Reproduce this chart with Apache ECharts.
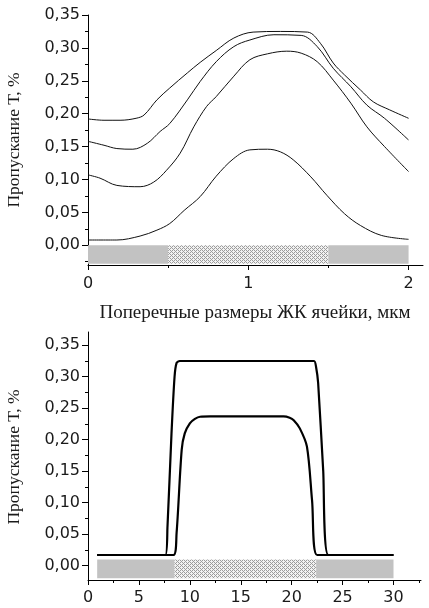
<!DOCTYPE html>
<html><head><meta charset="utf-8">
<script src="https://cdn.jsdelivr.net/npm/echarts@6/dist/echarts.min.js"></script>
<style>html,body{margin:0;padding:0;background:#fff}#c{width:429px;height:608px}</style>
</head><body><div id="c"></div>
<script>
// ---- data ----
const yTitle = 'Пропускание Т, %';
const xTitle = 'Поперечные размеры ЖК ячейки, мкм';

const topYLabels = [0, 0.05, 0.10, 0.15, 0.20, 0.25, 0.30, 0.35];
const topYMinor = [-0.025, 0.025, 0.075, 0.125, 0.175, 0.225, 0.275, 0.325];
const topXLabels = [0, 1, 2];
const topXMinor = [0.5, 1.5];

const botYLabels = [0, 0.05, 0.10, 0.15, 0.20, 0.25, 0.30, 0.35];
const botYMinor = [0.025, 0.075, 0.125, 0.175, 0.225, 0.275, 0.325];
const botXLabels = [0, 5, 10, 15, 20, 25, 30];
const botXMinor = [2.5, 7.5, 12.5, 17.5, 22.5, 27.5, 32.5];

const topCurveA = [[0,0.192],[0.1,0.19],[0.2,0.19],[0.3,0.193],[0.35,0.198],[0.43,0.221],[0.51,0.239],[0.62,0.262],[0.7,0.278],[0.8,0.296],[0.91,0.315],[1.03,0.324],[1.2,0.325],[1.37,0.324],[1.45,0.307],[1.53,0.277],[1.6,0.259],[1.7,0.236],[1.78,0.218],[1.88,0.206],[2.0,0.193]];
const topCurveB = [[0,0.158],[0.1,0.152],[0.18,0.147],[0.28,0.146],[0.37,0.155],[0.45,0.173],[0.51,0.185],[0.62,0.221],[0.7,0.249],[0.8,0.279],[0.91,0.302],[1.01,0.312],[1.16,0.32],[1.33,0.319],[1.43,0.302],[1.53,0.269],[1.64,0.241],[1.74,0.213],[1.85,0.193],[2.0,0.16]];
const topCurveC = [[0,0.107],[0.075,0.102],[0.18,0.091],[0.325,0.089],[0.41,0.096],[0.49,0.114],[0.575,0.14],[0.66,0.18],[0.74,0.211],[0.8,0.226],[0.91,0.257],[1.01,0.282],[1.12,0.291],[1.24,0.295],[1.33,0.292],[1.43,0.279],[1.53,0.251],[1.64,0.216],[1.74,0.18],[1.85,0.15],[2.0,0.112]];
const topCurveD = [[0,0.008],[0.18,0.008],[0.325,0.014],[0.43,0.023],[0.51,0.033],[0.6,0.053],[0.7,0.074],[0.8,0.105],[0.91,0.132],[1.01,0.145],[1.12,0.146],[1.2,0.142],[1.28,0.13],[1.39,0.104],[1.49,0.076],[1.6,0.048],[1.7,0.03],[1.83,0.015],[2.0,0.009]];

const botOuter = [[0.9,0.017],[7.6,0.017],[7.8,0.06],[8.2,0.21],[8.5,0.30],[8.7,0.322],[9,0.325],[22.2,0.325],[22.4,0.315],[22.6,0.29],[23.1,0.15],[23.6,0.017],[30,0.017]];
const botInner = [[0.9,0.017],[8.4,0.017],[8.7,0.052],[9.2,0.184],[9.5,0.21],[10,0.226],[10.5,0.233],[11,0.2365],[12,0.237],[19.2,0.237],[19.8,0.235],[20.2,0.231],[20.8,0.218],[21.5,0.189],[22,0.104],[22.5,0.017],[30,0.017]];

// bands: [xStart, xEnd, textured(0/1), yTop, yBottom]
const topBands = [[0,0.5,0,0,-0.028],[0.5,1.5,1,0,-0.028],[1.5,2,0,0,-0.028]];
const botBands = [[0.9,8.5,0,0.01,-0.02],[8.5,22.4,1,0.01,-0.02],[22.4,30,0,0.01,-0.02]];

// ---- pattern ----
const pc = document.createElement('canvas');
pc.width = 4; pc.height = 4;
const pctx = pc.getContext('2d');
pctx.fillStyle = '#f2f2f2'; pctx.fillRect(0,0,4,4);
pctx.fillStyle = '#9c9c9c';
[[0,0],[2,0],[1,1],[0,2],[3,3],[2,2]].forEach(p=>pctx.fillRect(p[0],p[1],1,1));
const pattern = {image: pc, repeat: 'repeat'};

const fmt = v => (Math.round(v*100)/100).toFixed(2).replace('.', ',');
const sans = '"DejaVu Sans", sans-serif';
const serif = '"Liberation Serif", "Times New Roman", serif';
const axLine = {show:true, onZero:false, lineStyle:{color:'#000', width:1}};

function yMain(grid, min, max, labels){
  return {type:'value', gridIndex:grid, min, max, position:'left',
    axisLine: axLine, splitLine:{show:false},
    axisTick:{show:true, inside:false, length:6, customValues:labels, lineStyle:{color:'#000'}},
    axisLabel:{show:true, customValues:labels, formatter:fmt, margin:8, fontFamily:sans, fontSize:16, color:'#1a1a1a'}};
}
function yMinor(grid, min, max, minors){
  return {type:'value', gridIndex:grid, min, max, position:'left',
    axisLine:{show:false, onZero:false}, splitLine:{show:false},
    axisTick:{show:true, length:3, customValues:minors, lineStyle:{color:'#000'}},
    axisLabel:{show:false}};
}
function xMain(grid, min, max, labels, margin){
  return {type:'value', gridIndex:grid, min, max, position:'bottom',
    axisLine: axLine, splitLine:{show:false},
    axisTick:{show:true, length:5, customValues:labels, lineStyle:{color:'#000'}},
    axisLabel:{show:true, customValues:labels, margin, fontFamily:sans, fontSize:16, color:'#1a1a1a'}};
}
function xMinor(grid, min, max, minors){
  return {type:'value', gridIndex:grid, min, max, position:'bottom',
    axisLine:{show:false, onZero:false}, splitLine:{show:false},
    axisTick:{show:true, length:3, customValues:minors, lineStyle:{color:'#000'}},
    axisLabel:{show:false}};
}
function bandSeries(xi, yi, data){
  return {type:'custom', xAxisIndex:xi, yAxisIndex:yi, data, silent:true, z:1,
    renderItem:(params, api)=>{
      const p1 = api.coord([api.value(0), api.value(3)]);
      const p2 = api.coord([api.value(1), api.value(4)]);
      return {type:'rect', shape:{x:p1[0], y:p1[1], width:p2[0]-p1[0], height:p2[1]-p1[1]},
        style:{fill: api.value(2) ? pattern : '#c2c2c2', stroke:null}};
    }};
}
function line(xi, yi, data, w){
  return {type:'line', xAxisIndex:xi, yAxisIndex:yi, data, symbol:'none', smooth:0.35, z:3,
    lineStyle:{color:'#111', width:w}, silent:true};
}
function vtext(x, y, t){
  return {type:'text', x, y, rotation:Math.PI/2,
    style:{text:t, font:'17.5px '+serif, fill:'#1a1a1a', align:'center', verticalAlign:'middle'}};
}

const chart = echarts.init(document.getElementById('c'), null, {renderer:'canvas'});
chart.setOption({
  animation:false,
  backgroundColor:'#fff',
  grid:[
    {left:88, top:15, width:335, height:250},
    {left:88, top:332, width:333, height:248}
  ],
  xAxis:[
    xMain(0, 0, 2.09, topXLabels, 11),
    xMinor(0, 0, 2.09, topXMinor),
    xMain(1, 0, 32.7, botXLabels, 10),
    xMinor(1, 0, 32.7, botXMinor)
  ],
  yAxis:[
    yMain(0, -0.03, 0.35, topYLabels),
    yMinor(0, -0.03, 0.35, topYMinor),
    yMain(1, -0.0227, 0.371, botYLabels),
    yMinor(1, -0.0227, 0.371, botYMinor)
  ],
  graphic:[
    vtext(14, 140, yTitle),
    vtext(14, 457, yTitle),
    {type:'text', x:255, y:313, style:{text:xTitle, font:'19px '+serif, fill:'#1a1a1a', align:'center', verticalAlign:'middle'}}
  ],
  series:[
    bandSeries(0, 0, topBands),
    line(0, 0, topCurveA, 1),
    line(0, 0, topCurveB, 1),
    line(0, 0, topCurveC, 1),
    line(0, 0, topCurveD, 1),
    bandSeries(2, 2, botBands),
    {type:'line', xAxisIndex:2, yAxisIndex:2, data:botOuter, symbol:'none', smooth:0.2, z:3, lineStyle:{color:'#000', width:2.2}, silent:true},
    {type:'line', xAxisIndex:2, yAxisIndex:2, data:botInner, symbol:'none', smooth:0.3, z:3, lineStyle:{color:'#000', width:2.2}, silent:true}
  ]
});
</script>
</body></html>
